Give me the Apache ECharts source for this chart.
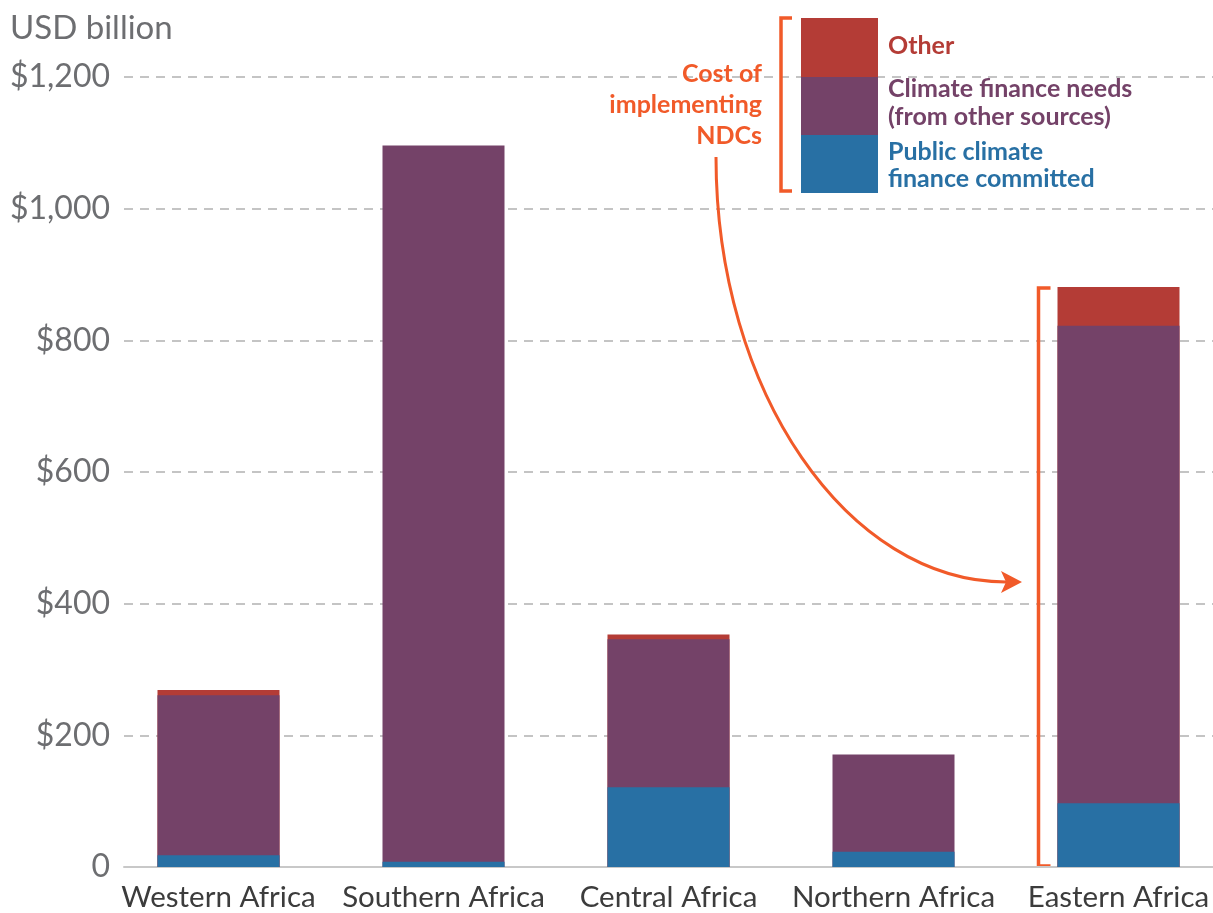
<!DOCTYPE html>
<html>
<head>
<meta charset="utf-8">
<script src="https://cdn.jsdelivr.net/npm/echarts@6/dist/echarts.min.js"></script>
<style>
  html, body { margin: 0; padding: 0; background: #fff; }
  #chart { width: 1213px; height: 913px; }
</style>
</head>
<body>
<div id="chart"></div>
<script>
// regions and stacked values (USD billion)
const regions = ['Western Africa', 'Southern Africa', 'Central Africa', 'Northern Africa', 'Eastern Africa'];
const publicCommitted = [18, 8, 121, 23, 97];
const otherNeeds = [243, 1088, 225, 148, 725];
const otherCost = [8, 0, 7, 0, 59];
const yTicks = [0, 200, 400, 600, 800, 1000, 1200];

const BLUE = '#2870a4';
const PURPLE = '#744268';
const RED = '#b43c36';
const ORANGE = '#f15a29';
const FONT = 'Lato, "Open Sans", sans-serif';

const chart = echarts.init(document.getElementById('chart'));

function money(v) {
  if (v === 0) return '0';
  return '$' + v.toLocaleString('en-US');
}

// bars sit on a value x axis (index 0..4) so the plot can start at the gridlines.
// stack doesn't work on a value base axis, so draw running totals on top of each other
const idx = regions.map((r, i) => i);
const upToNeeds = publicCommitted.map((v, i) => v + otherNeeds[i]);
const upToOther = upToNeeds.map((v, i) => v + otherCost[i]);
// skip empty segments so no edge of them peeks out
const pairs = (arr, part) => arr.map((v, i) => [idx[i], part[i] ? v : null]);

const option = {
  animation: false,
  grid: { left: 124, right: 0, top: 77, bottom: 46 },
  xAxis: {
    type: 'value', min: -0.42, max: 4.42,
    axisLine: { show: true, onZero: false, lineStyle: { color: '#c8c8c8', width: 2 } },
    axisTick: { show: false },
    splitLine: { show: false },
    axisLabel: {
      customValues: idx,
      formatter: v => regions[Math.round(v)],
      color: '#3c3c3c', fontSize: 29.5, fontFamily: FONT, margin: 15
    }
  },
  yAxis: {
    type: 'value', min: yTicks[0], max: yTicks[yTicks.length - 1], interval: 200,
    axisLine: { show: false }, axisTick: { show: false },
    axisLabel: { color: '#6d6e71', fontSize: 32, fontFamily: FONT, margin: 14, formatter: money },
    splitLine: { lineStyle: { color: '#c4c4c4', width: 2, type: [9, 7] } }
  },
  series: [
    { name: 'Other', type: 'bar', barGap: '-100%',
      barWidth: 122, itemStyle: { color: RED }, data: pairs(upToOther, otherCost) },
    { name: 'Climate finance needs (from other sources)', type: 'bar', barGap: '-100%',
      barWidth: 122, itemStyle: { color: PURPLE }, data: pairs(upToNeeds, otherNeeds) },
    { name: 'Public climate finance committed', type: 'bar', barGap: '-100%',
      barWidth: 122, itemStyle: { color: BLUE }, data: pairs(publicCommitted, publicCommitted) }
  ]
};

chart.setOption(option);

// bracket beside the Eastern Africa bar, from the axis to the top of the stack
const last = regions.length - 1;
const topPx = chart.convertToPixel({ gridIndex: 0 }, [last, upToOther[last]]);
const basePx = chart.convertToPixel({ gridIndex: 0 }, [last, 0]);
const bx = topPx[0] - 80;

const note = (x, y, text, color, align) => ({
  type: 'text', x: x, y: y,
  style: { text: text, fill: color, font: 'bold 25px ' + FONT, align: align || 'left', verticalAlign: 'middle' }
});

chart.setOption({
  graphic: [
    { type: 'text', x: 10, y: 28,
      style: { text: 'USD billion', fill: '#6d6e71', font: '33px ' + FONT, verticalAlign: 'middle' } },
    // legend block
    { type: 'rect', shape: { x: 801, y: 18, width: 77, height: 59 }, style: { fill: RED } },
    { type: 'rect', shape: { x: 801, y: 77, width: 77, height: 58 }, style: { fill: PURPLE } },
    { type: 'rect', shape: { x: 801, y: 135, width: 77, height: 58 }, style: { fill: BLUE } },
    note(888, 46, 'Other', RED),
    note(888, 89, 'Climate finance needs', PURPLE),
    note(888, 117, '(from other sources)', PURPLE),
    note(888, 152, 'Public climate', BLUE),
    note(888, 179, 'finance committed', BLUE),
    { type: 'polyline', shape: { points: [[792, 18], [781, 18], [781, 191], [792, 191]] },
      style: { stroke: ORANGE, lineWidth: 3.5, fill: null } },
    // annotation text
    note(762, 74, 'Cost of', ORANGE, 'right'),
    note(762, 105, 'implementing', ORANGE, 'right'),
    note(762, 136, 'NDCs', ORANGE, 'right'),
    // curved arrow
    { type: 'bezierCurve',
      shape: { x1: 716, y1: 157, cpx1: 716, cpy1: 392, cpx2: 848, cpy2: 582, x2: 1006, y2: 582 },
      style: { stroke: ORANGE, lineWidth: 3, fill: null } },
    { type: 'polygon', shape: { points: [[1022, 582], [1001, 571], [1006, 582], [1001, 593]] },
      style: { fill: ORANGE } },
    // bracket for Eastern Africa
    { type: 'polyline', shape: { points: [[bx + 12, topPx[1] + 1], [bx, topPx[1] + 1], [bx, basePx[1] - 1], [bx + 12, basePx[1] - 1]] },
      style: { stroke: ORANGE, lineWidth: 3.5, fill: null } }
  ]
});
</script>
</body>
</html>
